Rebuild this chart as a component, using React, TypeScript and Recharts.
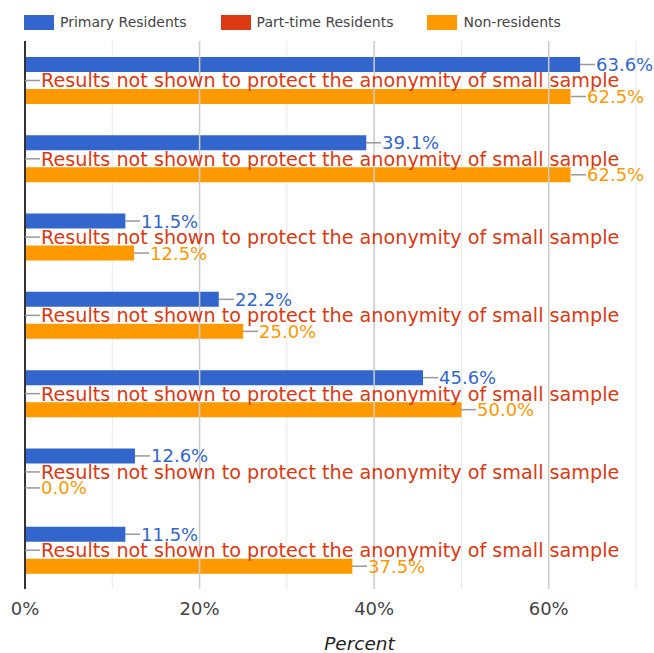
import React from 'react';
import {
  BarChart,
  Bar,
  XAxis,
  YAxis,
  CartesianGrid,
  ReferenceLine,
  LabelList,
  Legend,
  Label,
} from 'recharts';

const categories = ['Item 1', 'Item 2', 'Item 3', 'Item 4', 'Item 5', 'Item 6', 'Item 7'];
const primaryResidents = [63.6, 39.1, 11.5, 22.2, 45.6, 12.6, 11.5];
const partTimeResidents = [0, 0, 0, 0, 0, 0, 0];
const nonResidents = [62.5, 62.5, 12.5, 25.0, 50.0, 0.0, 37.5];
const xTicks = [0, 10, 20, 30, 40, 50, 60, 70];
const majorTicks = [20, 40, 60];
const suppressedText = 'Results not shown to protect the anonymity of small sample';

const series = [
  { key: 'primary', name: 'Primary Residents', color: '#3366cc' },
  { key: 'partTime', name: 'Part-time Residents', color: '#dc3912' },
  { key: 'nonRes', name: 'Non-residents', color: '#ff9900' },
];

const data = categories.map((name, i) => ({
  name,
  primary: primaryResidents[i],
  partTime: partTimeResidents[i],
  nonRes: nonResidents[i],
}));

const FONT = 'DejaVu Sans';

const makeLabel = (color: string, formatter: (v: number) => string, fontSize: number) => (props: any) => {
  const { x, y, width, height, value } = props;
  const x0 = Math.round(Number(x) + Number(width));
  const cy = Number(y) + Number(height) / 2;
  return (
    <g>
      <line x1={x0} x2={x0 + 15} y1={cy} y2={cy} stroke="#999999" strokeWidth={1.5} />
      <text
        x={x0 + 16}
        y={cy}
        dy="0.36em"
        fill={color}
        fontSize={fontSize}
        fontFamily={FONT}
      >
        {formatter(Number(value))}
      </text>
    </g>
  );
};

const pct = (v: number) => `${v.toFixed(1)}%`;

const LegendContent = () => (
  <div
    style={{
      display: 'flex',
      alignItems: 'center',
      gap: 34,
      paddingLeft: 24,
      paddingTop: 10,
      height: 25,
      boxSizing: 'content-box',
      fontFamily: FONT,
      fontSize: 14,
      color: '#444444',
    }}
  >
    {series.map((s) => (
      <div key={s.key} style={{ display: 'flex', alignItems: 'center', height: 15 }}>
        <div style={{ width: 30, height: 15, background: s.color, marginRight: 6 }} />
        <span style={{ whiteSpace: 'nowrap', lineHeight: '15px' }}>{s.name}</span>
      </div>
    ))}
  </div>
);

export default function App() {
  return (
    <div style={{ position: 'absolute', left: 0, top: 0, background: '#fff' }}>
      <BarChart
        width={654}
        height={653}
        data={data}
        layout="vertical"
        margin={{ top: 6, right: 18, bottom: 0, left: 25 }}
        barSize={15}
        barGap={1}
      >
        <Legend
          verticalAlign="top"
          align="left"
          content={<LegendContent />}
          wrapperStyle={{ top: 0, left: 0, width: 654, height: 35 }}
        />
        <CartesianGrid horizontal={false} stroke="#e8e8e8" strokeWidth={1} />
        {majorTicks.map((t) => (
          <ReferenceLine key={t} x={t} stroke="#cccccc" strokeWidth={1.5} />
        ))}
        <XAxis
          type="number"
          domain={[0, 70]}
          ticks={xTicks}
          height={64}
          axisLine={false}
          tickLine={false}
          tickSize={0}
          tickMargin={13}
          tickFormatter={(v: number) => (v % 20 === 0 ? `${v}%` : '')}
          tick={{ fontSize: 18, fill: '#444444', fontFamily: FONT }}
          interval={0}
        >
          <Label
            value="Percent"
            position="insideBottom"
            offset={3}
            dx={29}
            style={{ fontSize: 18.5, fontStyle: 'italic', fill: '#222222', fontFamily: FONT }}
          />
        </XAxis>
        <YAxis
          type="category"
          dataKey="name"
          width={0}
          tick={false}
          tickLine={false}
          axisLine={false}
        />
        <Bar
          dataKey="primary"
          name="Primary Residents"
          fill="#3366cc"
          isAnimationActive={false}
        >
          <LabelList dataKey="primary" content={makeLabel('#3366cc', pct, 18)} />
        </Bar>
        <Bar
          dataKey="partTime"
          name="Part-time Residents"
          fill="#dc3912"
          minPointSize={0.01}
          isAnimationActive={false}
        >
          <LabelList dataKey="partTime" content={makeLabel('#dc3912', () => suppressedText, 19.2)} />
        </Bar>
        <Bar
          dataKey="nonRes"
          name="Non-residents"
          fill="#ff9900"
          minPointSize={0.01}
          isAnimationActive={false}
        >
          <LabelList dataKey="nonRes" content={makeLabel('#ff9900', pct, 18)} />
        </Bar>
        <ReferenceLine x={0} stroke="#333333" strokeWidth={2} />
      </BarChart>
    </div>
  );
}
